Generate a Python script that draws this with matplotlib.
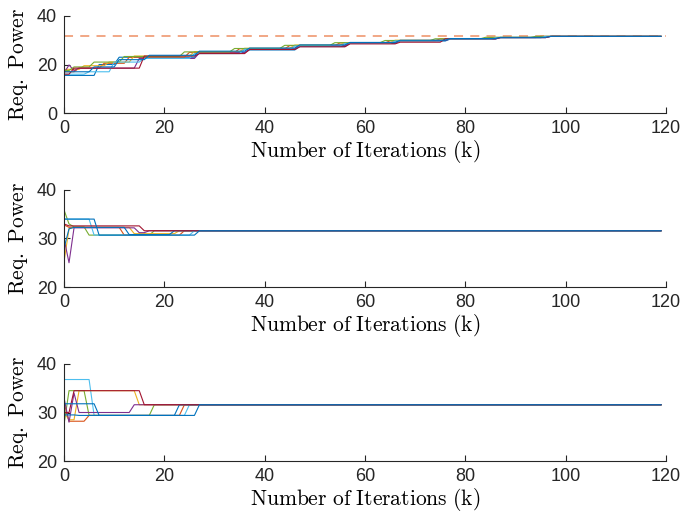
import numpy as np
import matplotlib
matplotlib.use('Agg')
import matplotlib.pyplot as plt

# MATLAB default colour order
blue = '#0072BD'
orange = '#D95319'
yellow = '#EDB120'
purple = '#7E2F8E'
green = '#77AC30'
lightblue = '#4DBEEE'
darkred = '#A2142F'

iterations = np.arange(0, 120)
target_power = 31.6

# change points (iteration, power) for each agent
top_agents = [
    (blue,      [(0, 15.5), (7, 20.0), (11, 23.0), (27, 25.0), (37, 26.0), (47, 27.4), (57, 28.7), (67, 29.7), (77, 30.5), (87, 31.1), (97, 31.6)]),
    (orange,    [(0, 17.0), (3, 18.5), (8, 20.5), (13, 23.0), (25, 25.0), (35, 26.5), (45, 27.8), (55, 28.9), (65, 29.8), (75, 30.6), (85, 31.1), (95, 31.6)]),
    (yellow,    [(0, 18.0), (4, 19.5), (9, 21.0), (14, 23.5), (26, 25.3), (36, 26.7), (46, 28.0), (56, 29.0), (66, 30.0), (76, 30.7), (86, 31.2), (96, 31.6)]),
    (purple,    [(0, 16.5), (1, 19.8), (2, 17.5), (3, 18.5), (15, 22.5), (27, 24.8), (37, 26.5), (47, 27.8), (57, 29.0), (67, 29.9), (77, 30.6), (87, 31.1), (97, 31.6)]),
    (green,     [(0, 17.5), (2, 19.0), (6, 21.0), (12, 23.3), (24, 25.2), (34, 26.6), (44, 27.9), (54, 29.0), (64, 29.9), (74, 30.6), (84, 31.2), (94, 31.6)]),
    (lightblue, [(0, 16.0), (5, 17.0), (10, 21.0), (16, 22.5), (26, 24.5), (36, 26.3), (46, 27.6), (56, 28.7), (66, 29.7), (76, 30.4), (86, 31.0), (96, 31.6)]),
    (darkred,   [(0, 16.0), (2, 18.5), (16, 23.5), (27, 24.5), (37, 26.2), (47, 27.3), (57, 28.5), (67, 29.2), (76, 30.6), (87, 31.1), (97, 31.6)]),
    (blue,      [(0, 17.0), (6, 19.0), (11, 22.0), (17, 23.8), (27, 25.5), (37, 26.8), (47, 28.1), (57, 29.1), (67, 30.0), (77, 30.7), (87, 31.2), (97, 31.6)]),
]

mid_agents = [
    (green,     [(0, 35.9), (1, 33.0), (2, 32.4), (5, 30.7), (18, 31.6)]),
    (orange,    [(0, 32.8), (1, 32.3), (12, 30.7), (24, 31.6)]),
    (yellow,    [(0, 25.2), (1, 32.0), (2, 32.3), (14, 31.0), (23, 31.6)]),
    (purple,    [(0, 30.0), (1, 25.0), (2, 32.2), (15, 31.2), (17, 31.6)]),
    (lightblue, [(0, 34.0), (6, 30.7), (26, 31.6)]),
    (blue,      [(0, 28.0), (1, 32.0), (2, 32.3), (13, 30.8), (22, 31.6)]),
    (darkred,   [(0, 33.0), (1, 32.6), (16, 31.6)]),
    (blue,      [(0, 34.0), (7, 30.7), (27, 31.6)]),
]

low_agents = [
    (lightblue, [(0, 36.8), (6, 29.4), (25, 31.6)]),
    (orange,    [(0, 32.0), (1, 28.2), (4, 28.2), (5, 29.4), (24, 31.6)]),
    (yellow,    [(0, 30.0), (1, 28.5), (3, 34.5), (15, 31.6)]),
    (green,     [(0, 27.5), (1, 34.5), (5, 29.4), (18, 31.6)]),
    (purple,    [(0, 33.0), (1, 28.0), (2, 34.0), (3, 30.0), (14, 31.6)]),
    (blue,      [(0, 29.5), (2, 29.5), (3, 29.4), (23, 31.6)]),
    (darkred,   [(0, 30.0), (2, 34.5), (16, 31.6)]),
    (blue,      [(0, 31.8), (7, 29.4), (27, 31.6)]),
]


def held_values(points):
    # each agent keeps its last value until the next change point
    ks = [p[0] for p in points]
    vals = [p[1] for p in points]
    idx = np.searchsorted(ks, iterations, side='right') - 1
    return np.array(vals)[idx]


plt.rcParams['font.family'] = 'Liberation Sans'
plt.rcParams['mathtext.fontset'] = 'cm'

fig = plt.figure(figsize=(6.84, 5.17), dpi=100)
left, width, height = 64 / 684, 602 / 684, 97 / 517
bottoms = [1 - 113 / 517, 1 - 287 / 517, 1 - 461 / 517]
panels = [(top_agents, (0, 40), [0, 20, 40]),
          (mid_agents, (20, 40), [20, 30, 40]),
          (low_agents, (20, 40), [20, 30, 40])]

for i, (agents, ylim, yticks) in enumerate(panels):
    ax = fig.add_axes([left, bottoms[i], width, height])
    if i == 0:
        ax.axhline(target_power, color='#F0A07C', linestyle=(0, (5, 4)), linewidth=1.3, zorder=1)
    for color, pts in agents:
        ax.plot(iterations, held_values(pts), color=color, linewidth=0.8)
    ax.set_xlim(0, 120)
    ax.set_ylim(*ylim)
    ax.set_xticks([0, 20, 40, 60, 80, 100, 120])
    ax.set_yticks(yticks)
    for side in ['top', 'right']:
        ax.spines[side].set_visible(False)
    for side in ['left', 'bottom']:
        ax.spines[side].set_color('#262626')
        ax.spines[side].set_linewidth(0.8)
    ax.tick_params(direction='in', length=4, width=0.8, colors='#262626',
                   labelsize=13, pad=5)
    ax.set_xlabel(r'$\mathrm{Number\ of\ Iterations\ (k)}$', fontsize=15.5, labelpad=1)
    ax.set_ylabel(r'$\mathrm{Req.\ Power}$', fontsize=15.5, labelpad=5)

fig.savefig('out.png', dpi=100)
